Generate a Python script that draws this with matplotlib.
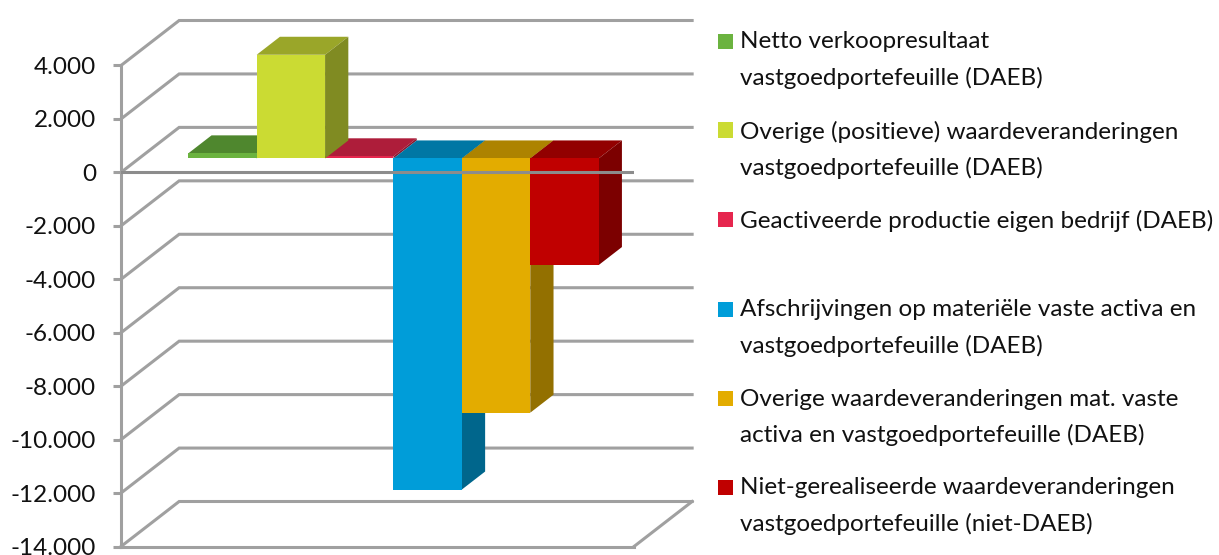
"""Pseudo-3D clustered column chart with a side-by-side legend text column."""
import matplotlib
matplotlib.use("Agg")
import matplotlib.pyplot as plt
from matplotlib.patches import Rectangle

plt.rcParams["font.family"] = ["Lato", "DejaVu Sans"]

LABELS = [
    "Netto verkoopresultaat\nvastgoedportefeuille (DAEB)",
    "Overige (positieve) waardeveranderingen\nvastgoedportefeuille (DAEB)",
    "Geactiveerde productie eigen bedrijf (DAEB)",
    "Afschrijvingen op materiële vaste activa en\nvastgoedportefeuille (DAEB)",
    "Overige waardeveranderingen mat. vaste\nactiva en vastgoedportefeuille (DAEB)",
    "Niet-gerealiseerde waardeveranderingen\nvastgoedportefeuille (niet-DAEB)",
]
VALUES = [190, 3880, 80, -12390, -9515, -3990]
FRONT = ["#6BB33F", "#CBDB33", "#E6264E", "#009DD9", "#E3AC00", "#C00000"]
TOP = ["#4F872E", "#9AA629", "#AE1D3A", "#0077A4", "#AD8300", "#920000"]
SIDE = ["#3F6C25", "#808B22", "#8B172E", "#00668C", "#937000", "#7C0000"]
YTICKS = [4000, 2000, 0, -2000, -4000, -6000, -8000, -10000, -12000, -14000]
LEGEND_Y = [41, 130, 219, 309, 398, 487]   # px from top, first line of each entry

W, H = 1219, 555
GRID = "#A0A0A0"
XMAX = 7.5
DX, DY = 0.85, 1684      # wall depth in data units
D0, D1 = 0.31, 0.71      # bar front/back as a fraction of the depth
GAP = 0.72

fig = plt.figure(figsize=(W / 100, H / 100), dpi=100)
ax = fig.add_axes([121 / W, 1 - 546.5 / H, 513 / W, 481 / H])
ax.set_xlim(0, XMAX)
ax.set_ylim(-14000, 4000)
ax.patch.set_visible(False)

# walls
for v in YTICKS:
    ax.plot([0, DX, XMAX + DX], [v, v + DY, v + DY], color=GRID, lw=2.2,
            clip_on=False, zorder=1, solid_joinstyle="miter")
ax.plot([XMAX, XMAX + DX], [-14000, -14000 + DY], color=GRID, lw=2.2, clip_on=False, zorder=1)

# bars, yellow after crimson so its side face lies on top
order = [0, 2, 1, 3, 4, 5]
for z, i in enumerate(order):
    v = VALUES[i]
    x0 = GAP + i
    x1 = x0 + 1
    ax0, ay0 = D0 * DX, D0 * DY
    ax1, ay1 = D1 * DX, D1 * DY
    hi = max(v, 0)
    lo = min(v, 0)
    zz = 3 + z * 0.1
    ax.fill([x0 + ax0, x1 + ax0, x1 + ax1, x0 + ax1],
            [hi + ay0, hi + ay0, hi + ay1, hi + ay1], color=TOP[i], lw=0, zorder=zz, clip_on=False)
    ax.fill([x1 + ax0, x1 + ax1, x1 + ax1, x1 + ax0],
            [lo + ay0, lo + ay1, hi + ay1, hi + ay0], color=SIDE[i], lw=0, zorder=zz, clip_on=False)
    ax.fill([x0 + ax0, x1 + ax0, x1 + ax0, x0 + ax0],
            [lo + ay0, lo + ay0, hi + ay0, hi + ay0], color=FRONT[i], lw=0, zorder=zz, clip_on=False)

ax.axhline(0, color="#8C8C8C", lw=2.2, zorder=10)

ax.set_xticks([])
ax.set_yticks(YTICKS)
ax.set_yticklabels([f"{v:,}".replace(",", ".") for v in YTICKS], fontsize=17.5, color="#111111")
ax.tick_params(axis="y", length=6, width=2.2, color=GRID, pad=12)
for s in ["top", "right"]:
    ax.spines[s].set_visible(False)
for s in ["left", "bottom"]:
    ax.spines[s].set_color(GRID)
    ax.spines[s].set_linewidth(2.2)

# legend column, spaced by hand because the entries have 1 or 2 lines
for y, label, col in zip(LEGEND_Y, LABELS, FRONT):
    fig.add_artist(Rectangle((718 / W, 1 - (y + 7.5) / H), 15 / W, 15 / H, color=col, lw=0,
                             transform=fig.transFigure))
    fig.text(740 / W, 1 - (y - 9.5) / H, label, fontsize=17.5, color="#111111",
             va="top", ha="left", linespacing=1.8)

fig.savefig("out.png", dpi=100)
